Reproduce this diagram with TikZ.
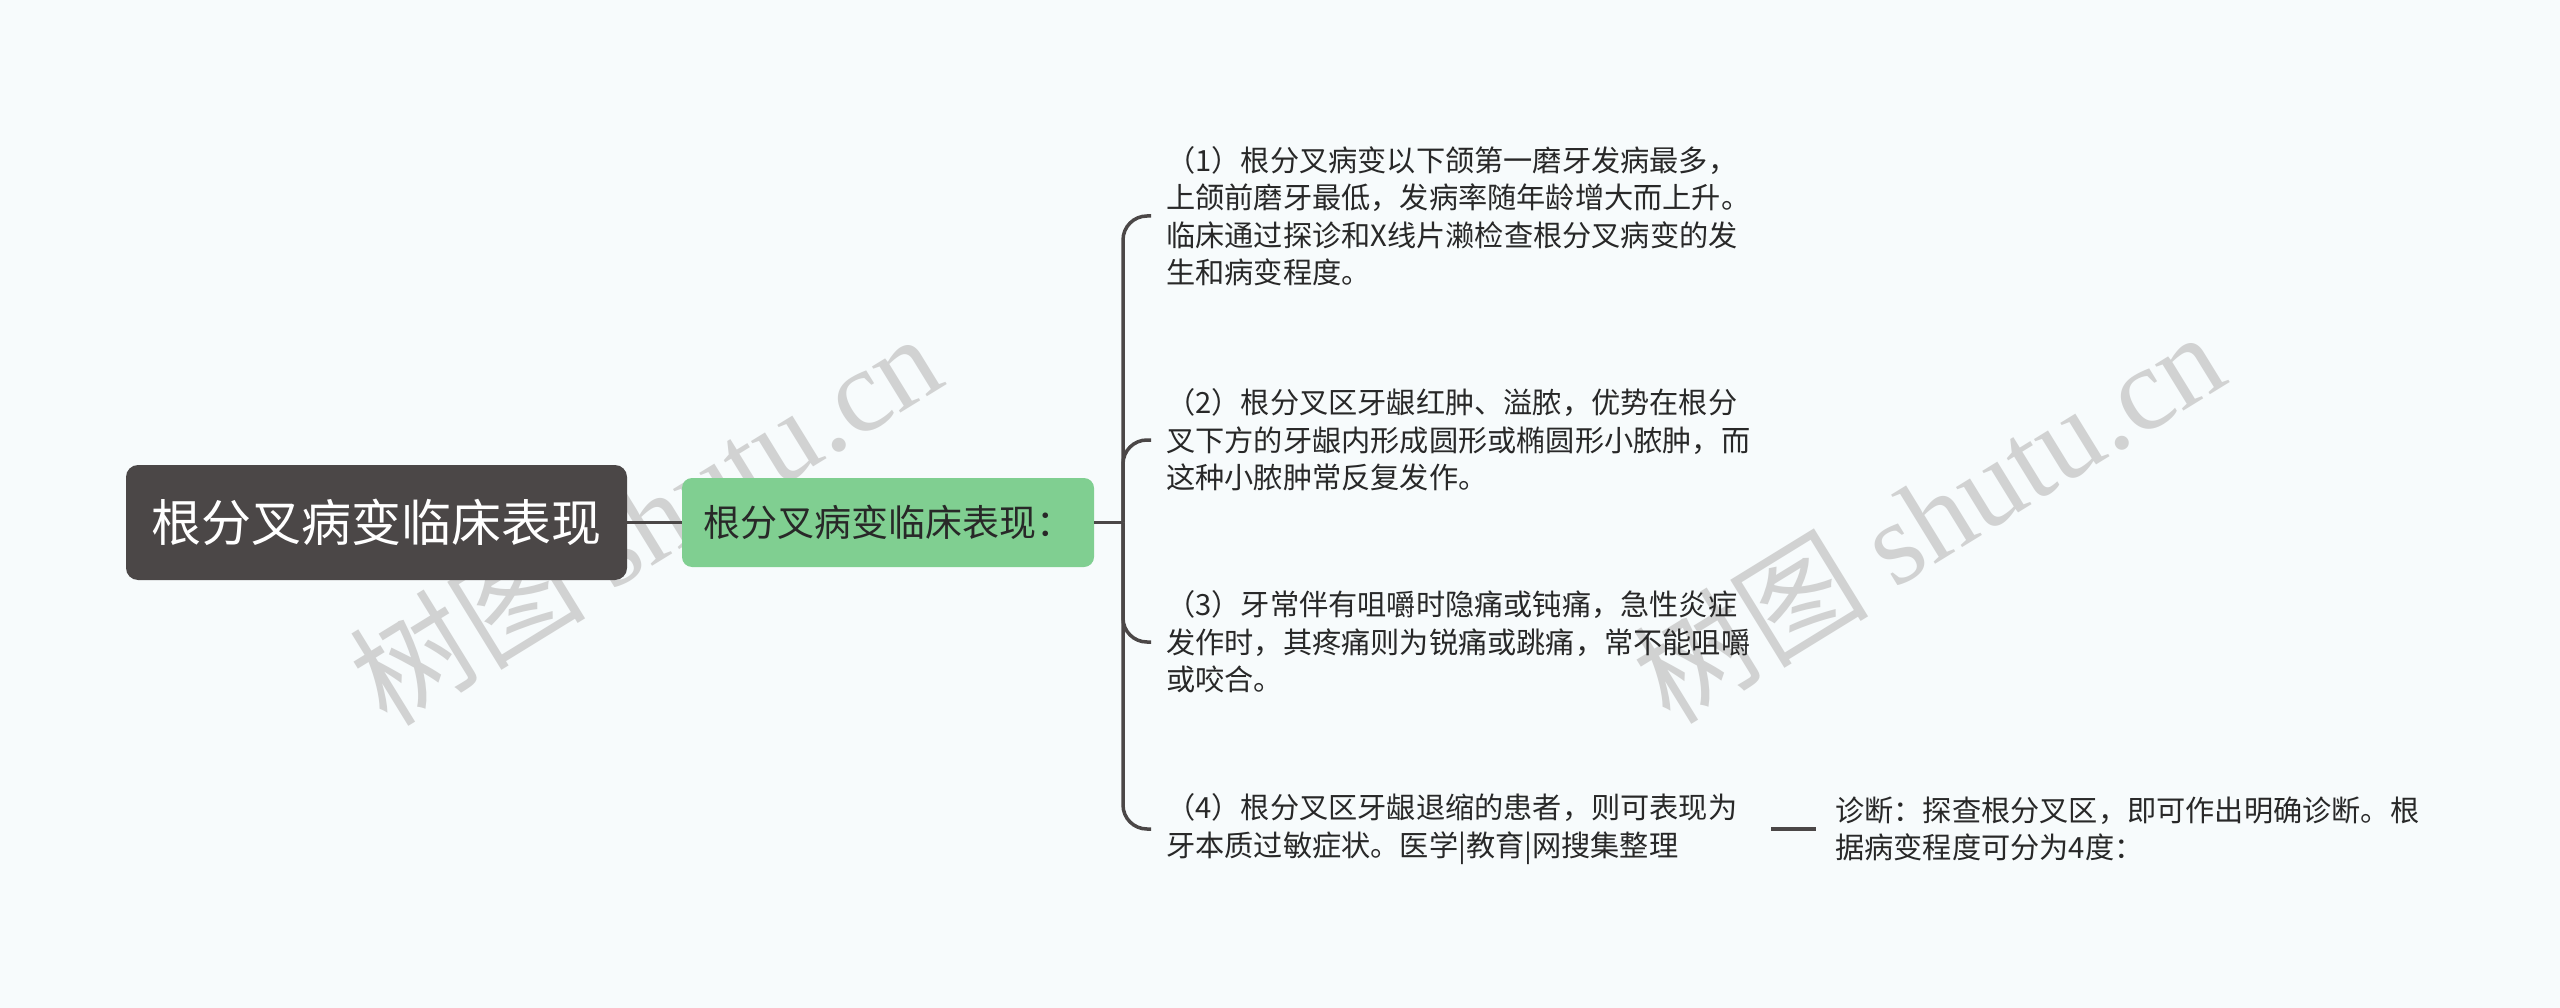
\documentclass[tikz,border=0pt]{standalone}
\usepackage{fontspec}
\setmainfont{Noto Sans CJK SC}
\newfontfamily\wmserif{Liberation Serif}
\newfontfamily\wmcjk{Noto Sans CJK SC}
\definecolor{bgc}{RGB}{247,251,252}
\definecolor{rootc}{RGB}{75,71,71}
\definecolor{subc}{RGB}{128,207,145}
\definecolor{linec}{RGB}{75,71,71}
\definecolor{textc}{RGB}{40,40,40}
\definecolor{wmc}{RGB}{200,200,200}
\tikzset{
  rootbox/.style={fill=rootc, text=white, rounded corners=12pt, minimum width=501pt, minimum height=115pt, inner sep=0pt, font=\fontsize{50}{60}\selectfont},
  subbox/.style={fill=subc, text=textc, rounded corners=10pt, minimum width=412pt, minimum height=89pt, inner sep=0pt, font=\fontsize{37}{44}\selectfont},
  leaf/.style={anchor=west, text width=590pt, align=left, inner xsep=15pt, inner ysep=0pt, text=textc, font=\fontsize{29.2}{37.5}\selectfont},
  gleaf/.style={anchor=west, text width=630pt, align=left, inner xsep=19pt, inner ysep=0pt, text=textc, font=\fontsize{29.2}{37.5}\selectfont},
  conn/.style={draw=linec, line width=3.5pt},
  wm/.style={text=wmc, opacity=0.8, inner sep=0pt, font=\fontsize{118}{128}\selectfont}
}
\begin{document}
\begin{tikzpicture}[x=1pt,y=-1pt]
\fill[bgc] (0,0) rectangle (2560,1008);
\useasboundingbox (0,0) rectangle (2560,1008);
% watermarks
\node[wm, rotate=31.6] (wm1) at (645,518) {{\wmcjk 树图} {\wmserif shutu.cn}};
\node[wm, rotate=31.6] (wm2) at (1928,516) {{\wmcjk 树图} {\wmserif shutu.cn}};
% nodes
\node[rootbox] (root) at (376.5,522.5) {根分叉病变临床表现};
\node[subbox] (sub) at (888,522.5) {根分叉病变临床表现：};
\coordinate (spine) at (1123,522.5);
\node[leaf] (c1) at (1151,216) {（1）根分叉病变以下颌第一磨牙发病最多，\\上颌前磨牙最低，发病率随年龄增大而上升。\\临床通过探诊和X线片濑检查根分叉病变的发\\生和病变程度。};
\node[leaf] (c2) at (1151,440) {（2）根分叉区牙龈红肿、溢脓，优势在根分\\叉下方的牙龈内形成圆形或椭圆形小脓肿，而\\这种小脓肿常反复发作。};
\node[leaf] (c3) at (1151,642) {（3）牙常伴有咀嚼时隐痛或钝痛，急性炎症\\发作时，其疼痛则为锐痛或跳痛，常不能咀嚼\\或咬合。};
\node[leaf] (c4) at (1151,829) {（4）根分叉区牙龈退缩的患者，则可表现为\\牙本质过敏症状。医学|教育|网搜集整理};
\node[gleaf] (g) at (1816,829) {诊断：探查根分叉区，即可作出明确诊断。根\\据病变程度可分为4度：};
% connectors
\draw[conn] (root.east) -- (sub.west);
\draw[conn] (sub.east) -- (spine);
\foreach \c in {c1,c2,c3,c4} \draw[conn, rounded corners=24pt] (spine) |- (\c.west);
\draw[conn] (c4.east) -- (g.west);
\end{tikzpicture}
\end{document}
